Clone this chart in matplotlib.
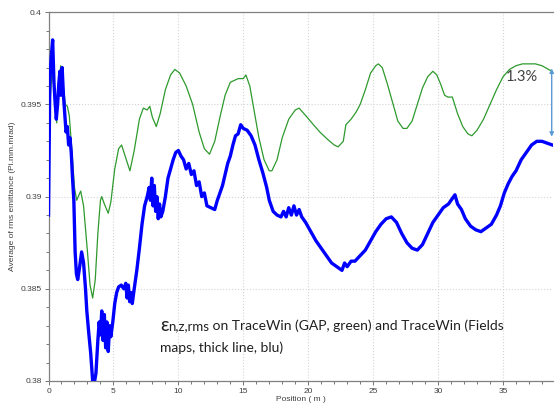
import numpy as np
import matplotlib.pyplot as plt
from matplotlib.ticker import MultipleLocator, FormatStrFormatter

# emittanza media rms: TraceWin GAP (verde) e Fields maps (blu)
x_gap = [0.0, 0.1, 0.3, 0.5, 0.63, 0.8, 0.94, 1.1, 1.3, 1.45, 1.6, 1.8, 2.0, 2.17, 2.35, 2.48,
         2.7, 3.0, 3.2, 3.4, 3.6, 3.8, 4.0, 4.1, 4.3, 4.6, 4.8, 5.1, 5.4, 5.63, 5.9, 6.27,
         6.6, 7.0, 7.3, 7.6, 7.8, 8.0, 8.3, 8.6, 9.0, 9.4, 9.73, 10.1, 10.6, 11.1, 11.6, 12.0,
         12.4, 12.8, 13.2, 13.6, 14.0, 14.6, 15.0, 15.2, 15.5, 15.8, 16.2, 16.6, 17.0, 17.2,
         17.6, 18.0, 18.5, 19.0, 19.3, 19.8, 20.4, 20.9, 21.5, 22.0, 22.3, 22.7, 22.9, 23.3,
         23.7, 24.0, 24.4, 24.8, 25.2, 25.4, 25.7, 26.1, 26.5, 26.9, 27.3, 27.6, 28.0, 28.4,
         28.8, 29.2, 29.6, 29.9, 30.2, 30.5, 30.75, 31.1, 31.5, 31.9, 32.3, 32.6, 33.0, 33.5,
         34.0, 34.5, 35.0, 35.5, 36.0, 36.5, 37.0, 37.5, 38.0, 38.5, 38.8]
e_gap = [0.3890, 0.3950, 0.3970, 0.3950, 0.3940, 0.3960, 0.3971, 0.3962, 0.3950, 0.3949,
         0.3944, 0.3925, 0.3905, 0.3898, 0.3901, 0.3903, 0.3895, 0.3870, 0.3852, 0.3845,
         0.3855, 0.3880, 0.3898, 0.3900, 0.3896, 0.3891, 0.3897, 0.3915, 0.3926, 0.3928,
         0.3922, 0.3914, 0.3925, 0.3942, 0.3948, 0.3947, 0.3949, 0.3943, 0.3938, 0.3945,
         0.3958, 0.3966, 0.3969, 0.3967, 0.3960, 0.3950, 0.3935, 0.3926, 0.3923, 0.3930,
         0.3943, 0.3955, 0.3962, 0.3964, 0.3964, 0.3966, 0.3960, 0.3948, 0.3932, 0.3920,
         0.3914, 0.3914, 0.3920, 0.3932, 0.3942, 0.3947, 0.3948, 0.3944, 0.3939, 0.3935,
         0.3931, 0.3928, 0.3927, 0.3930, 0.3939, 0.3942, 0.3946, 0.3950, 0.3958, 0.3967,
         0.3971, 0.3972, 0.3970, 0.3961, 0.3951, 0.3941, 0.3937, 0.3937, 0.3941, 0.3950,
         0.3959, 0.3965, 0.3968, 0.3966, 0.3961, 0.3955, 0.3954, 0.3954, 0.3945, 0.3938,
         0.3934, 0.3933, 0.3936, 0.3942, 0.3950, 0.3958, 0.3965, 0.3969, 0.3971, 0.3972,
         0.3972, 0.3972, 0.3971, 0.3969, 0.3968]

x_fm = [0.0, 0.1, 0.2, 0.32, 0.42, 0.5, 0.6, 0.7, 0.8, 0.88, 0.95, 1.05, 1.15, 1.25, 1.35,
        1.45, 1.55, 1.65, 1.75, 1.85, 1.95, 2.05, 2.15, 2.25, 2.4, 2.55, 2.7, 2.85, 2.95,
        3.1, 3.25, 3.4, 3.5, 3.65, 3.8, 3.9, 4.0, 4.1, 4.2, 4.3, 4.4, 4.5, 4.6, 4.7, 4.8,
        4.95, 5.1, 5.25, 5.4, 5.6, 5.8, 5.95, 6.05, 6.15, 6.25, 6.35, 6.45, 6.6, 6.8, 7.0,
        7.2, 7.4, 7.6, 7.75, 7.85, 7.95, 8.05, 8.15, 8.25, 8.35, 8.45, 8.55, 8.65, 8.8, 9.0,
        9.2, 9.4, 9.6, 9.8, 10.0, 10.2, 10.4, 10.6, 10.8, 11.0, 11.2, 11.4, 11.6, 11.8, 12.0,
        12.2, 12.5, 12.8, 13.0, 13.2, 13.4, 13.6, 13.8, 14.0, 14.2, 14.4, 14.6, 14.8, 15.0,
        15.3, 15.6, 15.9, 16.2, 16.5, 16.8, 17.0, 17.3, 17.6, 17.9, 18.1, 18.3, 18.5, 18.7,
        18.9, 19.1, 19.3, 19.5, 19.8, 20.2, 20.6, 21.0, 21.4, 21.8, 22.2, 22.6, 22.8, 23.0,
        23.3, 23.6, 24.0, 24.4, 24.8, 25.2, 25.6, 26.0, 26.4, 26.8, 27.2, 27.6, 28.0, 28.4,
        28.8, 29.2, 29.6, 30.0, 30.4, 30.8, 31.1, 31.3, 31.5, 31.8, 32.1, 32.5, 32.9, 33.3,
        33.7, 34.1, 34.5, 34.8, 35.1, 35.4, 35.7, 36.0, 36.4, 36.8, 37.2, 37.6, 38.0, 38.4,
        38.8]
e_fm = [0.3890, 0.3962, 0.3975, 0.3985, 0.3962, 0.3952, 0.3942, 0.3950, 0.3962, 0.3968,
        0.3955, 0.3970, 0.3955, 0.3945, 0.3935, 0.3938, 0.3928, 0.3932, 0.3924, 0.3910,
        0.3898, 0.3870, 0.3858, 0.3855, 0.3862, 0.3870, 0.3864, 0.3850, 0.3838, 0.3826,
        0.3815, 0.3800, 0.3798, 0.3804, 0.3822, 0.3832, 0.3825, 0.3838, 0.3822, 0.3836,
        0.3818, 0.3832, 0.3816, 0.3830, 0.3824, 0.3832, 0.3842, 0.3848, 0.3851, 0.3852,
        0.3850, 0.3853, 0.3845, 0.3852, 0.3843, 0.3848, 0.3842, 0.3850, 0.3860, 0.3872,
        0.3885, 0.3895, 0.3900, 0.3905, 0.3898, 0.3910, 0.3895, 0.3906, 0.3892, 0.3900,
        0.3888, 0.3896, 0.3889, 0.3892, 0.3900, 0.3910, 0.3915, 0.3920, 0.3924, 0.3925,
        0.3922, 0.3920, 0.3915, 0.3918, 0.3912, 0.3914, 0.3906, 0.3908, 0.3900, 0.3902,
        0.3895, 0.3894, 0.3893, 0.3898, 0.3902, 0.3906, 0.3912, 0.3918, 0.3922, 0.3928,
        0.3933, 0.3934, 0.3939, 0.3937, 0.3936, 0.3933, 0.3928, 0.3920, 0.3913, 0.3905,
        0.3898, 0.3892, 0.3890, 0.3889, 0.3892, 0.3889, 0.3894, 0.3890, 0.3895, 0.3890,
        0.3893, 0.3889, 0.3886, 0.3881, 0.3876, 0.3872, 0.3868, 0.3864, 0.3862, 0.3860,
        0.3864, 0.3862, 0.3865, 0.3865, 0.3868, 0.3871, 0.3876, 0.3881, 0.3885, 0.3888,
        0.3889, 0.3886, 0.3880, 0.3875, 0.3872, 0.3871, 0.3874, 0.3880, 0.3886, 0.3890,
        0.3894, 0.3896, 0.3899, 0.3901, 0.3896, 0.3893, 0.3888, 0.3884, 0.3882, 0.3881,
        0.3883, 0.3885, 0.3890, 0.3895, 0.3902, 0.3907, 0.3911, 0.3914, 0.3920, 0.3924,
        0.3928, 0.3930, 0.3930, 0.3929, 0.3928]

fig = plt.figure(figsize=(5.55, 4.03), dpi=100)
ax = fig.add_axes([0.0874, 0.0546, 0.909, 0.915])

ax.plot(x_gap, e_gap, color='#2e9a2e', lw=0.9, zorder=3)
ax.plot(x_fm, e_fm, color='#0000ff', lw=2.4, zorder=4)

ax.set_xlim(0, 38.85)
ax.set_ylim(0.38, 0.4)
ax.xaxis.set_major_locator(MultipleLocator(5))
ax.xaxis.set_minor_locator(MultipleLocator(1))
ax.yaxis.set_major_locator(MultipleLocator(0.005))
ax.yaxis.set_minor_locator(MultipleLocator(0.001))
ax.yaxis.set_major_formatter(FormatStrFormatter('%g'))
ax.tick_params(which='both', labelsize=6, labelcolor='#404040', color='#606060', width=0.6)
ax.tick_params(which='major', length=3, pad=2)
ax.tick_params(which='minor', length=2)
for lab in ax.get_xticklabels() + ax.get_yticklabels():
    lab.set_family('Liberation Sans')
ax.grid(True, which='major', color='#d4d4d4', ls=':', lw=0.8)

for s in ['top', 'bottom', 'left']:
    ax.spines[s].set_color('#808080')
    ax.spines[s].set_linewidth(0.9)
ax.spines['right'].set_visible(False)

ax.set_xlabel('Position ( m )', fontsize=6, color='#404040', labelpad=1, family='Liberation Sans')
ax.set_ylabel('Average of rms emittance (Pi.mm.mrad)', fontsize=6, color='#404040',
              labelpad=3, family='Liberation Sans')

# freccia 1.3%
ax.annotate('', xy=(38.75, 0.3931), xytext=(38.75, 0.3971),
            arrowprops=dict(arrowstyle='<|-|>', color='#5b9bd5', lw=1, mutation_scale=6))
ax.text(36.45, 0.3965, '1.3%', fontsize=10.5, color='#404040', ha='center', va='center',
        family='Lato')

# didascalia: epsilon con pedice piu piccolo
fig.canvas.draw()
r = fig.canvas.get_renderer()
t1 = ax.annotate('ε', xy=(8.58, 0.38299), xycoords='data', fontsize=13.5, color='#202020',
                 ha='left', va='center', family='Lato')
w1 = t1.get_window_extent(r).width * 72 / fig.dpi
t2 = ax.annotate('n,z,rms', xy=(8.58, 0.38299), xycoords='data', xytext=(w1, -0.5),
                 textcoords='offset points', fontsize=9.5, color='#202020',
                 ha='left', va='center', family='Lato')
w2 = t2.get_window_extent(r).width * 72 / fig.dpi
ax.annotate(' on TraceWin (GAP, green) and TraceWin (Fields', xy=(8.58, 0.38299),
            xycoords='data', xytext=(w1 + w2, 0), textcoords='offset points', fontsize=10,
            color='#202020', ha='left', va='center', family='Lato')
ax.text(8.58, 0.38180, 'maps, thick line, blu)', fontsize=10, color='#202020',
        ha='left', va='center', family='Lato')

plt.savefig('out.png', dpi=100)
